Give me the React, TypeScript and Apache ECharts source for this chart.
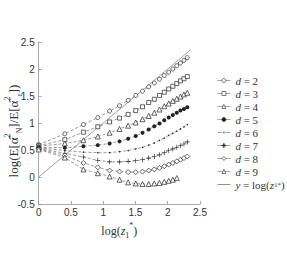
import React, { useEffect, useRef } from "react";
import * as echarts from "echarts";

const xs = [0, 0.405, 0.693, 0.916, 1.099, 1.253, 1.386, 1.504, 1.609, 1.705, 1.792, 1.872, 1.946, 2.015, 2.079, 2.140, 2.197, 2.251, 2.303];

const d2 = [0.6, 0.8, 0.97, 1.1, 1.22, 1.32, 1.42, 1.51, 1.59, 1.67, 1.74, 1.81, 1.88, 1.94, 2.0, 2.06, 2.11, 2.16, 2.21];
const d3 = [0.58, 0.69, 0.83, 0.93, 1.02, 1.09, 1.16, 1.23, 1.3, 1.38, 1.44, 1.51, 1.57, 1.63, 1.68, 1.73, 1.78, 1.82, 1.86];
const d4 = [0.57, 0.62, 0.68, 0.75, 0.82, 0.89, 0.95, 1.01, 1.07, 1.13, 1.19, 1.25, 1.31, 1.36, 1.41, 1.45, 1.49, 1.53, 1.56];
const d5 = [0.55, 0.54, 0.57, 0.59, 0.62, 0.66, 0.71, 0.76, 0.82, 0.88, 0.94, 0.99, 1.05, 1.1, 1.15, 1.19, 1.23, 1.26, 1.29];
const d6 = [0.54, 0.49, 0.46, 0.45, 0.45, 0.47, 0.49, 0.52, 0.55, 0.59, 0.63, 0.68, 0.72, 0.77, 0.81, 0.85, 0.89, 0.93, 0.97];
const d7 = [0.53, 0.44, 0.37, 0.31, 0.28, 0.28, 0.29, 0.3, 0.32, 0.35, 0.38, 0.41, 0.45, 0.49, 0.52, 0.55, 0.58, 0.61, 0.65];
const d8 = [0.52, 0.4, 0.26, 0.18, 0.12, 0.1, 0.09, 0.09, 0.1, 0.12, 0.14, 0.17, 0.2, 0.23, 0.26, 0.29, 0.32, 0.35, 0.38];
const d9 = [0.51, 0.36, 0.14, 0.07, 0.01, -0.05, -0.1, -0.12, -0.13, -0.13, -0.12, -0.11, -0.09, -0.07, -0.05, -0.02];

const refX = [0, 2.35];
const refY = [0, 2.35];

const labels = ["2", "3", "4", "5", "6", "7", "8", "9"];
const xTicks = { min: 0, max: 2.5, interval: 0.5 };
const yTicks = { min: -0.5, max: 2.5, interval: 0.5 };

const PLUS = "path://M0,4.4H10V5.6H0Z M4.4,0H5.6V10H4.4Z";
const DOT_ICON =
  "path://M0,0h0.01v0.01h-0.01Z M12.99,4.99h0.01v0.01h-0.01Z M0,2.2H4.5V2.8H0Z M8.5,2.2H13V2.8H8.5Z M5.8,1.8H7.2V3.2H5.8Z";

export default function App() {
  const ref = useRef<HTMLDivElement>(null);
  useEffect(() => {
    if (!ref.current) return;
    const chart = echarts.init(ref.current, null, { renderer: "svg" });
    const ink = "#222";
    const open = { color: "#fff", borderColor: ink, borderWidth: 0.7 };
    const filled = { color: ink, borderColor: ink, borderWidth: 0 };
    const specs = [
      { vals: d2, symbol: "circle", size: 4, style: open },
      { vals: d3, symbol: "rect", size: 4, style: open },
      { vals: d4, symbol: "triangle", size: 5, style: open },
      { vals: d5, symbol: "circle", size: 4, style: filled },
      { vals: d6, symbol: "circle", size: 1.5, style: filled },
      { vals: d7, symbol: PLUS, size: 5, style: filled },
      { vals: d8, symbol: "diamond", size: 5, style: open },
      { vals: d9, symbol: "triangle", size: 5, style: open },
    ];
    const series: any[] = specs.map((s, k) => ({
      name: "d" + labels[k],
      type: "line",
      data: s.vals.map((v, i) => [xs[i], v]),
      symbol: s.symbol,
      symbolSize: s.size,
      showAllSymbol: true,
      lineStyle: { color: "#555", width: 0.6, type: [3, 2] },
      itemStyle: s.style,
      z: 3,
    }));
    series.push({
      name: "ref",
      type: "line",
      data: refX.map((x, i) => [x, refY[i]]),
      symbol: "none",
      lineStyle: { color: "#777", width: 0.7, type: "solid" },
      itemStyle: { color: "#777" },
      z: 2,
    });
    const legendData: any[] = series.map((s) => {
      if (s.name === "d6") return { name: s.name, icon: DOT_ICON, itemStyle: { color: "#444", borderWidth: 0 } };
      if (s.name === "ref") return { name: s.name, icon: "line", itemStyle: { color: "#777", borderColor: "#777", borderWidth: 0.8 } };
      return { name: s.name };
    });
    const axisCommon = {
      axisLine: { show: true, onZero: false, lineStyle: { color: "#888", width: 0.7 } },
      axisTick: { show: true, inside: true, length: 3, lineStyle: { color: "#888", width: 0.7 } },
      splitLine: { show: false },
      axisLabel: { color: "#333", fontSize: 10, fontFamily: "Liberation Sans" },
    };
    chart.setOption({
      animation: false,
      backgroundColor: "#fff",
      grid: { left: 38.7, right: 87, top: 42, bottom: 55, containLabel: false },
      xAxis: {
        type: "value",
        ...xTicks,
        ...axisCommon,
        axisLabel: { ...axisCommon.axisLabel, margin: 3 },
        name: "{t|log(}{i|z}{b|1}{s|*}{t|)}",
        nameLocation: "middle",
        nameGap: 9,
        nameTextStyle: {
          color: "#333",
          rich: {
            t: { fontFamily: "Liberation Serif", fontSize: 12, color: "#333", lineHeight: 18 },
            i: { fontFamily: "Liberation Serif", fontSize: 12, fontStyle: "italic", color: "#333", lineHeight: 18 },
            s: { fontFamily: "Liberation Serif", fontSize: 8, color: "#333", verticalAlign: "top", lineHeight: 18 },
            b: { fontFamily: "Liberation Serif", fontSize: 8, color: "#333", verticalAlign: "bottom", lineHeight: 18 },
          },
        },
      },
      yAxis: {
        type: "value",
        ...yTicks,
        ...axisCommon,
        axisLabel: { ...axisCommon.axisLabel, margin: 4 },
      },
      legend: {
        orient: "vertical",
        left: 212,
        top: 70,
        itemWidth: 13,
        itemHeight: 5,
        itemGap: 2,
        itemStyle: { borderWidth: 0.6 },
        lineStyle: { width: 0.6, type: "solid", color: "#666" },
        data: legendData,
        formatter: (name: string) =>
          name === "ref" ? "{i|y} = log({i|z}{b|1}{s|*})" : "{i|d} = " + name.slice(1),
        textStyle: {
          fontFamily: "Liberation Serif",
          fontSize: 11,
          color: "#333",
          lineHeight: 10,
          rich: {
            i: { fontFamily: "Liberation Serif", fontSize: 11, fontStyle: "italic", color: "#333", lineHeight: 10 },
            s: { fontFamily: "Liberation Serif", fontSize: 7, color: "#333", lineHeight: 10 },
            b: { fontFamily: "Liberation Serif", fontSize: 7, color: "#333", lineHeight: 10 },
          },
        },
      },
      graphic: [
        {
          type: "text",
          x: 13,
          y: 131,
          rotation: Math.PI / 2,
          style: {
            text: "log(E[{h|α̂}{s|2}{b|N}]/E[{h|α̂}{s|2}{b|ε}])",
            font: "13px 'Liberation Serif'",
            fill: "#333",
            align: "center",
            verticalAlign: "middle",
            rich: {
              h: { fontFamily: "Liberation Serif", fontSize: 13, fill: "#333", lineHeight: 20 },
              s: { fontFamily: "Liberation Serif", fontSize: 8, fill: "#333", verticalAlign: "top", lineHeight: 20 },
              b: { fontFamily: "Liberation Serif", fontSize: 8, fill: "#333", verticalAlign: "bottom", lineHeight: 20 },
            },
          },
        },
      ],
      series,
    });
    return () => chart.dispose();
  }, []);
  return <div ref={ref} style={{ position: "fixed", left: 0, top: 0, width: 287, height: 259 }} />;
}
